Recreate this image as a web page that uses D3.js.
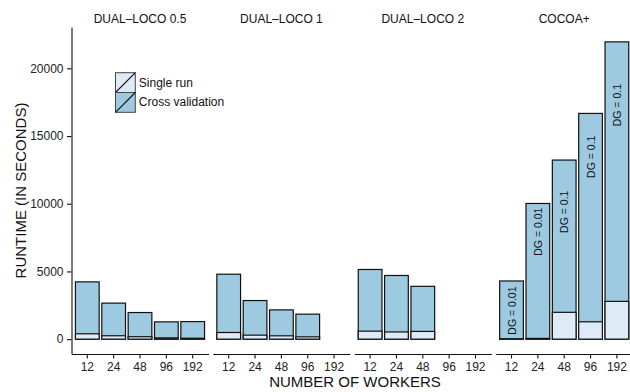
<!DOCTYPE html>
<html>
<head>
<meta charset="utf-8">
<script src="https://cdn.jsdelivr.net/npm/d3@7"></script>
<style>
  html, body { margin: 0; padding: 0; background: #fff; }
  svg { display: block; font-family: "Liberation Sans", Arial, Helvetica, sans-serif; }
</style>
</head>
<body>
<svg id="chart" width="630" height="392"></svg>
<script>
// Runtime of DUAL-LOCO variants vs. COCOA+ by number of workers
const methods = ["DUAL\u2013LOCO 0.5", "DUAL\u2013LOCO 1", "DUAL\u2013LOCO 2", "COCOA+"];
const workers = ["12", "24", "48", "96", "192"];

// Cross-validation runtime (seconds), one value per worker count; null = not run
const crossValidation = [
  [4230, 2660, 1965, 1275, 1295],
  [4795, 2850, 2160, 1845, null],
  [5145, 4700, 3900, null, null],
  [4295, 10020, 13225, 16670, 21955]
];
// Single-run runtime (seconds)
const singleRun = [
  [395, 250, 180, 95, 65],
  [490, 295, 245, 170, null],
  [590, 530, 570, null, null],
  [30, 55, 1980, 1280, 2790]
];
// Duality-gap annotations on the COCOA+ bars and the runtime value at which each is centred
const dgLabels = ["DG = 0.01", "DG = 0.01", "DG = 0.1", "DG = 0.1", "DG = 0.1"];
const dgLabelAt = [2110, 7935, 9410, 13470, 17280];

const yTicks = [0, 5000, 10000, 15000, 20000];
const legendItems = ["Single run", "Cross validation"];
const fillSingle = "#deebf7";
const fillCV = "#9ecae1";

// ---- layout ----
const svg = d3.select("#chart");
const plotTop = 27, plotBottom = 354;
const panelLeft0 = 71.5, panelW = 137, panelGap = 4.4;
const fontMain = 12;
const fontFamily = "'Liberation Sans', Arial, sans-serif";

const yMax = d3.max(crossValidation.flat().filter(v => v != null));
const pad = yMax * 0.05;
const y = d3.scaleLinear().domain([-pad, yMax + pad]).range([plotBottom, plotTop]);

const panels = methods.map((m, i) => {
  const x0 = panelLeft0 + i * (panelW + panelGap);
  const x = d3.scaleBand().domain(workers).range([x0, x0 + panelW])
    .paddingInner(0.1).paddingOuter(0.15);
  return { name: m, i, x0, x };
});

// y axis (first panel only)
const yAxis = svg.append("g").attr("transform", `translate(${panelLeft0},0)`)
  .call(d3.axisLeft(y).tickValues(yTicks).tickFormat(d3.format("d"))
    .tickSize(4.5).tickSizeOuter(0).tickPadding(3.5));
yAxis.selectAll("path.domain, .tick line").attr("stroke", "#111").attr("stroke-width", 1.1);
yAxis.selectAll(".tick text").attr("font-size", fontMain).attr("fill", "#222")
  .attr("font-family", fontFamily);

panels.forEach(p => {
  const g = svg.append("g");

  // strip label
  g.append("text")
    .attr("x", p.x0 + panelW / 2).attr("y", 23.3)
    .attr("text-anchor", "middle").attr("font-size", fontMain).attr("fill", "#111")
    .text(p.name);

  // bars: cross-validation total with single run overlaid from zero
  workers.forEach((w, j) => {
    const cv = crossValidation[p.i][j];
    const sr = singleRun[p.i][j];
    if (cv == null) return;
    const bx = p.x(w), bw = p.x.bandwidth();
    g.append("rect")
      .attr("x", bx).attr("width", bw)
      .attr("y", y(cv)).attr("height", y(0) - y(cv))
      .attr("fill", fillCV).attr("stroke", "#111").attr("stroke-width", 1.2);
    if (sr != null) {
      g.append("rect")
        .attr("x", bx).attr("width", bw)
        .attr("y", y(sr)).attr("height", y(0) - y(sr))
        .attr("fill", fillSingle).attr("stroke", "#111").attr("stroke-width", 1.2);
    }
  });

  // duality-gap annotations (COCOA+)
  if (p.name === "COCOA+") {
    workers.forEach((w, j) => {
      const cx = p.x(w) + p.x.bandwidth() / 2;
      const cy = y(dgLabelAt[j]);
      g.append("text")
        .attr("transform", `translate(${cx},${cy}) rotate(-90)`)
        .attr("text-anchor", "middle").attr("dominant-baseline", "central")
        .attr("font-size", 10.5).attr("fill", "#111")
        .text(dgLabels[j]);
    });
  }

  // x axis
  const xAxis = g.append("g").attr("transform", `translate(0,${plotBottom})`)
    .call(d3.axisBottom(p.x).tickSize(4.5).tickSizeOuter(0).tickPadding(3.5));
  xAxis.selectAll("path.domain, .tick line").attr("stroke", "#111").attr("stroke-width", 1.1);
  xAxis.selectAll(".tick text").attr("font-size", fontMain).attr("fill", "#222")
    .attr("font-family", fontFamily);
});

// axis titles
svg.append("text")
  .attr("x", 355).attr("y", 386.5)
  .attr("text-anchor", "middle").attr("font-size", 15).attr("fill", "#111")
  .text("NUMBER OF WORKERS");
svg.append("text")
  .attr("transform", `translate(25.5,${(plotTop + plotBottom) / 2}) rotate(-90)`)
  .attr("text-anchor", "middle").attr("font-size", 15).attr("fill", "#111")
  .text("RUNTIME (IN SECONDS)");

// legend
const legend = svg.append("g").attr("transform", "translate(115.5,72.7)");
const keySize = 19.8;
legendItems.forEach((label, k) => {
  const ky = k * keySize;
  legend.append("rect")
    .attr("x", 0).attr("y", ky).attr("width", keySize).attr("height", keySize)
    .attr("fill", k === 0 ? fillSingle : fillCV)
    .attr("stroke", "#444").attr("stroke-width", 1);
  legend.append("line")
    .attr("x1", 0).attr("y1", ky + keySize).attr("x2", keySize).attr("y2", ky)
    .attr("stroke", "#111").attr("stroke-width", 1.1);
  legend.append("text")
    .attr("x", keySize + 3.5).attr("y", ky + keySize / 2)
    .attr("dominant-baseline", "central").attr("font-size", fontMain).attr("fill", "#111")
    .text(label);
});
</script>
</body>
</html>
